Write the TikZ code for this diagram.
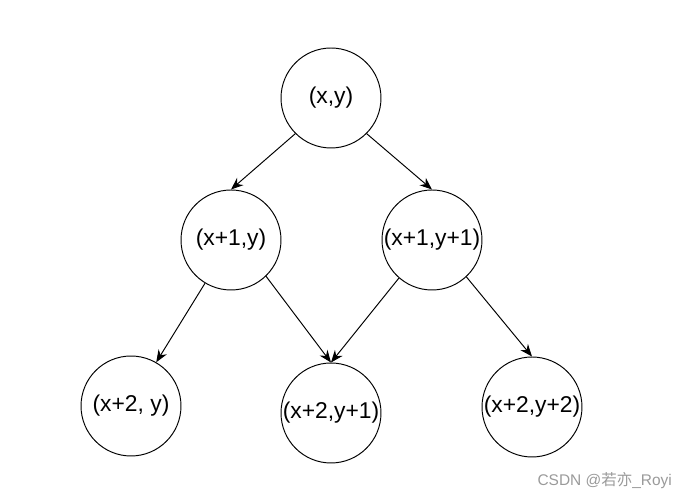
\documentclass[tikz,border=0pt]{standalone}
\usepackage{fontspec}
\setmainfont{Liberation Sans}
\newfontfamily\cjk{Noto Sans CJK SC}
\usetikzlibrary{arrows.meta}
\definecolor{markgray}{HTML}{9A9A9A}

\begin{document}
\begin{tikzpicture}[x=0.02cm, y=-0.02cm,
    every node/.style={font=\fontsize{13}{15}\selectfont},
    state/.style={circle, draw=black, line width=0.55pt, fill=white,
        minimum size=2cm, inner sep=0pt, align=center},
    link/.style={-{Stealth[length=7pt, width=5.5pt]}, line width=0.55pt, black},
]
\useasboundingbox (0,0) rectangle (691,499);

% States
\node[state] (root) at (331,98) {(x,y)};
\node[state] (midL) at (231,240) {(x+1,y)};
\node[state] (midR) at (432,240) {(x+1,y+1)};
\node[state] (leafL) at (131,406) {(x+2, y)};
\node[state] (leafM) at (331,413) {(x+2,y+1)};
\node[state] (leafR) at (532,407) {(x+2,y+2)};

% Moves
\draw[link] (root.-135) -- (midL.north);
\draw[link] (root.-45) -- (midR.north);
\draw[link] (midL.-121) -- (leafL.60);
\draw[link] (midL.-46) -- (leafM.north);
\draw[link] (midR.-131) -- (leafM.north);
\draw[link] (midR.-47) -- (leafR.north);

% Watermark
\node[anchor=east, text=markgray, font=\fontsize{8.8}{10}\selectfont] (mark) at (678,481)
    {CSDN @{\cjk 若亦}\_Royi};
\end{tikzpicture}
\end{document}
